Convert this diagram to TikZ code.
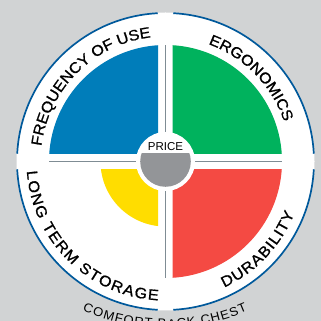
\documentclass[tikz,border=0pt]{standalone}
\usepackage{fontspec}
\setmainfont{Liberation Sans}
\newfontfamily\lblfam[FakeBold=1,FakeStretch=1.08]{Liberation Sans}
\newfontfamily\capfam[FakeStretch=1.05]{Liberation Sans}
\usetikzlibrary{decorations.text}
\definecolor{bgc}{HTML}{D1D3D4}
\definecolor{ringc}{HTML}{00599B}
\definecolor{bluec}{HTML}{007DBA}
\definecolor{greenc}{HTML}{00B25D}
\definecolor{redc}{HTML}{F44A43}
\definecolor{yellowc}{HTML}{FFDD00}
\definecolor{grayc}{HTML}{939598}
\definecolor{linec}{HTML}{7F8C94}
\newcommand{\lblfont}{\lblfam\fontsize{15}{15}\selectfont}
\newcommand{\capfont}{\capfam\fontsize{12.5}{12.5}\selectfont}
\tikzset{
  ringarc/.style={draw=ringc,line width=1.7pt},
  divider/.style={draw=linec,line width=1pt},
  curved/.style={decorate,decoration={text along path,text align={fit to path},text={#1}}}
}
\begin{document}
\begin{tikzpicture}[x=1pt,y=1pt]
\useasboundingbox (0,0) rectangle (321,321);
\clip (0,0) rectangle (321,321);
\fill[bgc] (0,0) rectangle (321,321);
\coordinate (c) at (165.5,159.5);
\coordinate (c2) at (165,200);
\fill[white] (c) circle (149);
% ring
\draw[ringarc] ([shift={(93:148.5)}]c) arc (93:177:148.5);
\draw[ringarc] ([shift={(87:148.5)}]c) arc (87:3:148.5);
\draw[ringarc] ([shift={(183:148.5)}]c) arc (183:267:148.5);
\draw[ringarc] ([shift={(-3:148.5)}]c) arc (-3:-87:148.5);
% sectors
\begin{scope}\clip (0,167.5) rectangle (158,321);
\fill[bluec] (c) circle (116.5);\end{scope}
\begin{scope}\clip (172.7,167.5) rectangle (321,321);
\fill[greenc] (c) circle (116.5);\end{scope}
\begin{scope}\clip (172.7,151.5) rectangle (321,0);
\fill[redc] (c) circle (116.5);\end{scope}
\begin{scope}\clip (0,151.5) rectangle (158,0);
\fill[yellowc] (c) circle (65);\end{scope}
% dividers
\draw[divider] ([xshift=-116.5pt]c) -- ([xshift=116.5pt]c);
\draw[divider] ([yshift=-116.5pt]c) -- ([yshift=116.5pt]c);
% hub
\fill[white] (c) circle (29.5);
\begin{scope}\clip (130,0) rectangle (200,167.5);
\fill[grayc] (c) circle (25.3);\end{scope}
\node[inner sep=0pt,font=\fontsize{11.5}{11.5}\selectfont] (price) at (165.5,174.5) {PRICE};
% labels
\path[curved={|\lblfont|FREQUENCY OF USE}] ([shift={(173:125)}]c) arc (173:97:125);
\path[curved={|\lblfont|ERGONOMICS}] ([shift={(70:125)}]c) arc (70:19:125);
\path[curved={|\lblfont|LONG TERM STORAGE}] ([shift={(184:139)}]c) arc (184:267:139);
\path[curved={|\lblfont|DURABILITY}] ([shift={(-65:139)}]c) arc (-65:-22:139);
\path[curved={|\capfont|COMFORT BACK CHEST}] ([shift={(-113.5:207)}]c2) arc (-113.5:-66.5:207);
\end{tikzpicture}
\end{document}
